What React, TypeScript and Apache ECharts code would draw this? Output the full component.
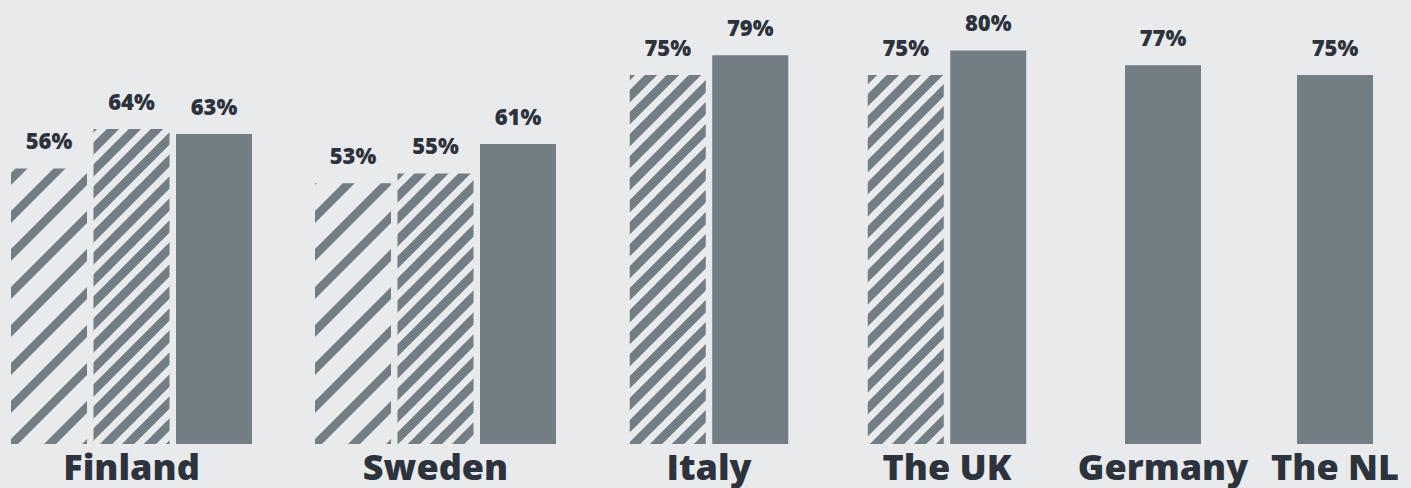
import React, { useEffect, useRef } from "react";
import * as echarts from "echarts";

// ---- data ----
const countries = ["Finland", "Sweden", "Italy", "The UK", "Germany", "The NL"];
// first hatched bar (wide stripes)
const hatchWide: (number | null)[] = [56, 53, null, null, null, null];
// second hatched bar (narrow stripes)
const hatchNarrow: (number | null)[] = [64, 55, 75, 75, null, null];
// solid bar
const solid: (number | null)[] = [63, 61, 79, 80, 77, 75];

// ---- layout / style ----
const W = 1411;
const H = 488;
const groupCenters = [131.5, 435.5, 709, 947, 1163, 1335];
const BAR_W = 76;
const BAR_GAP_PX = 6.5;
const BASE_Y = 444;
const PX_PER_PCT = 4.92;
const Y_MAX = 90;
const BG = "#e9eaec";
const BAR = "#727d84";
const TEXT = "#2c333c";
const FONT = "'Open Sans', 'DejaVu Sans', sans-serif";

function stripes(period: number, lineWidth: number) {
  const c = document.createElement("canvas");
  c.width = period;
  c.height = period;
  const ctx = c.getContext("2d")!;
  ctx.strokeStyle = BAR;
  ctx.lineWidth = lineWidth;
  for (const k of [-1, 0, 1, 2, 3]) {
    const cc = k * period;
    ctx.beginPath();
    ctx.moveTo(cc + period, -period);
    ctx.lineTo(cc - 2 * period, 2 * period);
    ctx.stroke();
  }
  return {
    image: c,
    repeat: "repeat",
    imageWidth: period,
    imageHeight: period,
  } as any;
}

export default function App() {
  const ref = useRef<HTMLDivElement>(null);
  useEffect(() => {
    if (!ref.current) return;
    const chart = echarts.init(ref.current, undefined, { renderer: "svg" });
    const wide = stripes(38, 8.5);
    const narrow = stripes(22, 8.7);
    const fullH = Y_MAX * PX_PER_PCT;
    const grids: any[] = [];
    const xAxes: any[] = [];
    const yAxes: any[] = [];
    const series: any[] = [];
    const label = {
      show: true,
      position: "top",
      distance: 17,
      formatter: "{c}%",
      color: TEXT,
      fontFamily: FONT,
      fontWeight: 800,
      fontSize: 22,
    };
    countries.forEach((name, i) => {
      const parts: [number | null, any][] = [
        [hatchWide[i], wide],
        [hatchNarrow[i], narrow],
        [solid[i], BAR],
      ];
      const n = parts.filter((p) => p[0] != null).length;
      const w = n * BAR_W + (n - 1) * BAR_GAP_PX;
      grids.push({
        left: groupCenters[i] - w / 2,
        width: w,
        top: BASE_Y - fullH,
        height: fullH,
        containLabel: false,
      });
      xAxes.push({
        type: "category",
        gridIndex: i,
        data: [name],
        axisLine: { show: false },
        axisTick: { show: false },
        splitLine: { show: false },
        axisLabel: {
          interval: 0,
          margin: 3,
          color: TEXT,
          fontFamily: FONT,
          fontWeight: 800,
          fontSize: 36,
          lineHeight: 38,
        },
      });
      yAxes.push({ type: "value", gridIndex: i, min: 0, max: Y_MAX, show: false });
      parts.forEach(([v, color]) => {
        if (v == null) return;
        series.push({
          type: "bar",
          xAxisIndex: i,
          yAxisIndex: i,
          data: [v],
          barWidth: BAR_W,
          barGap: (BAR_GAP_PX / BAR_W) * 100 + "%",
          itemStyle: { color },
          label,
        });
      });
    });
    chart.setOption({
      animation: false,
      backgroundColor: BG,
      grid: grids,
      xAxis: xAxes,
      yAxis: yAxes,
      series,
    });
    return () => chart.dispose();
  }, []);
  return (
    <div
      ref={ref}
      style={{ position: "fixed", left: 0, top: 0, width: W, height: H }}
    />
  );
}
